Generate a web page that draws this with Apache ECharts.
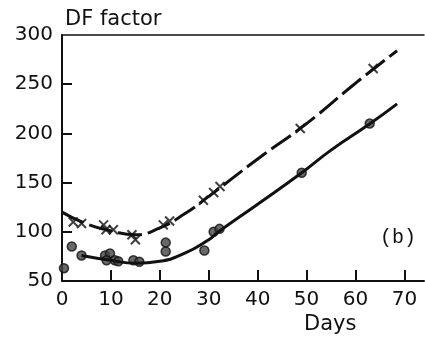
<!DOCTYPE html>
<html>
<head>
<meta charset="utf-8">
<script src="https://cdn.jsdelivr.net/npm/echarts@6/dist/echarts.min.js"></script>
<style>html,body{margin:0;padding:0;background:#fff;}#c{width:425px;height:343px;}</style>
</head>
<body>
<div id="c"></div>
<script>
// Crosses (upper series)
const crossDays = [2.3, 4.0, 8.5, 9.0, 10.5, 14.3, 15.0, 20.7, 22.0, 28.9, 31.0, 32.3, 48.7, 63.6];
const crossVals = [110, 108.5, 107, 102, 102, 97, 92, 107, 111, 132, 140, 146, 205, 266];
// Circles (lower series)
const dotDays = [0.4, 2.0, 4.0, 8.8, 9.8, 9.1, 10.8, 11.5, 14.6, 15.8, 21.2, 21.2, 29.1, 31.0, 32.2, 49.0, 62.9];
const dotVals = [63, 85, 76, 76, 78, 71, 71, 70, 71, 69.5, 89, 80, 81, 100, 103, 160, 210];
// Fitted curves
const upperCurveDays = [0, 5, 10, 15, 20, 25, 30, 40, 50, 60, 68.5];
const upperCurveVals = [120, 108, 101, 97, 104, 118, 136, 174, 210, 251, 284];
const lowerCurveDays = [4, 10, 15, 20, 25, 30, 32, 40, 49, 55, 63, 68.5];
const lowerCurveVals = [76, 71, 68, 70, 78, 92, 100, 128, 160, 183, 210, 230];
const xTicks = [0, 10, 20, 30, 40, 50, 60, 70];
const yTicks = [50, 100, 150, 200, 250, 300];

const zip = (a, b) => a.map((v, i) => [v, b[i]]);
const font = 'DejaVu Sans';
const chart = echarts.init(document.getElementById('c'), null, {renderer: 'canvas'});
chart.setOption({
  animation: false,
  backgroundColor: '#fff',
  grid: {left: 62, right: 1, top: 35, bottom: 62},
  title: [
    {text: 'DF factor', left: 60, top: 4, textStyle: {fontFamily: font, fontSize: 21, fontWeight: 'normal', color: '#111'}},
  ],
  graphic: [
    {type: 'text', left: 304, top: 314, style: {text: 'Days', font: '21px "DejaVu Sans"', fill: '#111'}},
    {type: 'text', left: 380, top: 228, style: {text: '(b)', font: '20px "Liberation Mono"', fill: '#111'}}
  ],
  xAxis: [{
    type: 'value', min: 0, max: 74, interval: 10,
    axisLine: {show: true, lineStyle: {color: '#111', width: 2}},
    axisTick: {show: true, inside: true, length: 11, lineStyle: {color: '#111', width: 2}, customValues: xTicks},
    axisLabel: {color: '#111', fontFamily: font, fontSize: 20, margin: 9, customValues: xTicks},
    splitLine: {show: false}
  }, {
    type: 'value', position: 'top', min: 0, max: 74,
    axisLine: {show: true, onZero: false, lineStyle: {color: '#111', width: 1.5}},
    axisTick: {show: false}, axisLabel: {show: false}, splitLine: {show: false}
  }],
  yAxis: {
    type: 'value', min: 50, max: 300, interval: 50,
    axisLine: {show: true, lineStyle: {color: '#111', width: 2}},
    axisTick: {show: true, inside: true, length: 10, lineStyle: {color: '#111', width: 2}, customValues: yTicks.slice(0, 5)},
    axisLabel: {color: '#111', fontFamily: font, fontSize: 20, margin: 9, customValues: yTicks},
    splitLine: {show: false}
  },
  series: [
    {type: 'line', data: zip(upperCurveDays, upperCurveVals), smooth: 0.5, showSymbol: false, silent: true,
     lineStyle: {color: '#111', width: 3, type: [24, 6]}},
    {type: 'line', data: zip(lowerCurveDays, lowerCurveVals), smooth: 0.5, showSymbol: false, silent: true,
     lineStyle: {color: '#111', width: 3}},
    {type: 'scatter', data: zip(crossDays, crossVals), symbol: 'path://M0,0L10,10M10,0L0,10', symbolSize: 9,
     itemStyle: {color: 'none', borderColor: '#111', borderWidth: 2}},
    {type: 'scatter', data: zip(dotDays, dotVals), symbol: 'circle', symbolSize: 9,
     itemStyle: {color: '#444', borderColor: '#111', borderWidth: 1.5}}
  ]
});
</script>
</body>
</html>
